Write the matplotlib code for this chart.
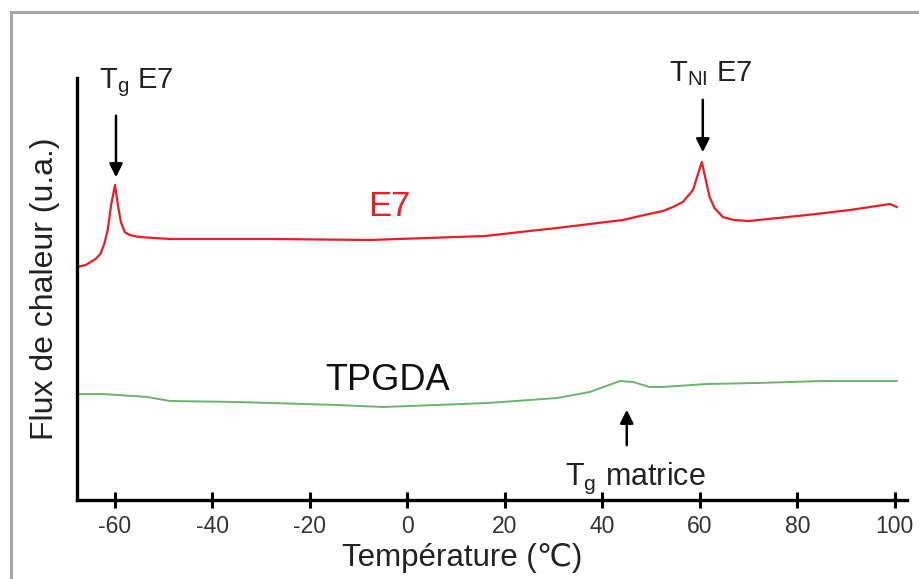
import matplotlib
matplotlib.use("Agg")
import matplotlib.pyplot as plt
from matplotlib.lines import Line2D

plt.rcParams['font.family'] = ['Liberation Sans', 'DejaVu Sans']
plt.rcParams['mathtext.fontset'] = 'custom'
plt.rcParams['mathtext.rm'] = 'Liberation Sans'
plt.rcParams['mathtext.it'] = 'Liberation Sans'

# DSC traces (heat flow, arbitrary units) versus temperature in °C
e7_temp = [-67.8, -66, -64, -63, -62.2, -61.5, -60.8, -60, -59.4, -58.8, -58, -57, -55,
           -48.7, -28, -7.7, 16, 25, 30.7, 37.4, 44.2, 47.7, 52.4, 54.5, 56.5, 58.6, 60.4,
           62, 63, 64.7, 67, 70, 82, 90.8, 99, 100.4]
e7_flux = [23.3, 23.5, 24.1, 24.6, 25.6, 27.0, 29.5, 31.5, 29.5, 27.8, 26.8, 26.5, 26.3,
           26.1, 26.1, 26.0, 26.4, 26.9, 27.2, 27.6, 28.0, 28.4, 28.9, 29.3, 29.8, 31.0, 33.8,
           30.3, 29.2, 28.3, 28.0, 27.9, 28.5, 29.0, 29.6, 29.3]

tpgda_temp = [-67.8, -62.5, -53.4, -48.7, -35, -28, -14.5, -5, 6, 16.5, 30.7, 37.4,
              43.6, 46.3, 49.7, 52.4, 61.4, 71.7, 85.2, 100.4]
tpgda_flux = [10.6, 10.6, 10.3, 9.9, 9.8, 9.7, 9.5, 9.3, 9.5, 9.7, 10.2, 10.8,
              11.9, 11.8, 11.3, 11.3, 11.6, 11.7, 11.9, 11.9]

x_ticks = [-60, -40, -20, 0, 20, 40, 60, 80, 100]

W, H = 919, 579
fig = plt.figure(figsize=(W / 100, H / 100), dpi=100)

# outer grey frame
fy = (H - 12) / H
fx = 11 / W
fig.add_artist(Line2D([fx, fx], [0, fy], transform=fig.transFigure, color='#a6a6a6', lw=2.2))
fig.add_artist(Line2D([fx, 1], [fy, fy], transform=fig.transFigure, color='#a6a6a6', lw=2.2))

ax_l, ax_r, ax_t, ax_b = 77, 907, 78, 500
ax = fig.add_axes([ax_l / W, (H - ax_b) / H, (ax_r - ax_l) / W, (ax_b - ax_t) / H])

ax.plot(e7_temp, e7_flux, color='#ec1c24', lw=1.6)
ax.plot(tpgda_temp, tpgda_flux, color='#6db36d', lw=1.4)

ax.set_xlim(-67.8, 102.5)
ax.set_ylim(0, 42.2)
ax.set_xticks(x_ticks)
ax.set_xticklabels([str(t) for t in x_ticks])
ax.set_yticks([])

for s in ['top', 'right']:
    ax.spines[s].set_visible(False)
for s in ['left', 'bottom']:
    ax.spines[s].set_linewidth(2.4)
    ax.spines[s].set_color('black')

ax.tick_params(axis='x', direction='inout', length=12, width=2.2, color='black',
               labelsize=16.5, labelcolor='#333333', pad=5)

ax.set_xlabel('Température (℃)', fontsize=22.5, color='#222222')
ax.xaxis.set_label_coords((462 - ax_l) / (ax_r - ax_l), (ax_b - 558) / (ax_b - ax_t))
ax.xaxis.label.set_va('center')
ax.set_ylabel('Flux de chaleur (u.a.)', fontsize=23, color='#222222')
ax.yaxis.set_label_coords((45 - ax_l) / (ax_r - ax_l), 0.5)
ax.yaxis.label.set_va('center')

# curve names
ax.text(-3.8, 29.3, 'E7', color='#ec1c24', fontsize=25, ha='center', va='center')
ax.text(-4, 11.9, 'TPGDA', color='#111111', fontsize=26, ha='center', va='center')

# transition markers
ax.text(-55.7, 41.7, r'T$_\mathregular{g}$ E7', fontsize=21, ha='center', va='center',
        color='#222222', clip_on=False)
ax.annotate('', xy=(-59.8, 32.0), xytext=(-59.8, 38.7),
            arrowprops=dict(arrowstyle='-|>', color='black', lw=1.8, mutation_scale=20))

ax.text(62.3, 42.6, r'T$_\mathregular{NI}$ E7', fontsize=21, ha='center', va='center',
        color='#222222', clip_on=False)
ax.annotate('', xy=(60.6, 34.5), xytext=(60.6, 40.3),
            arrowprops=dict(arrowstyle='-|>', color='black', lw=1.8, mutation_scale=20))

ax.text(46.7, 2.2, r'T$_\mathregular{g}$ matrice', fontsize=22, ha='center', va='center',
        color='#222222')
ax.annotate('', xy=(45, 9.3), xytext=(45, 5.2),
            arrowprops=dict(arrowstyle='-|>', color='black', lw=1.8, mutation_scale=20))

fig.savefig('out.png', dpi=100)
